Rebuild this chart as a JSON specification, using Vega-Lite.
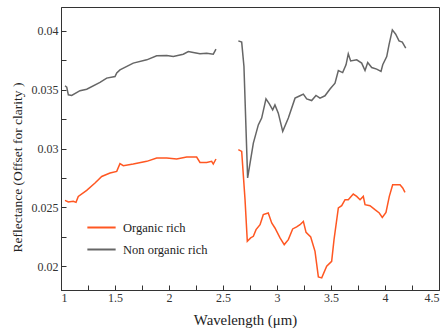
{
  "$schema": "https://vega.github.io/schema/vega-lite/v6.json",
  "width": 378,
  "height": 283,
  "autosize": "none",
  "padding": {"left": 61, "top": 7, "right": 7, "bottom": 44},
  "background": "white",
  "config": {
    "font": "Liberation Serif",
    "view": {"stroke": "#333333", "strokeWidth": 1},
    "text": {"font": "Liberation Serif"},
    "legend": {"labelFont": "Liberation Serif"},
    "axis": {
      "domainColor": "#333333",
      "tickColor": "#333333",
      "labelColor": "#333333",
      "titleColor": "#222222",
      "labelFont": "Liberation Serif",
      "titleFont": "Liberation Serif",
      "labelFontSize": 12,
      "titleFontSize": 14,
      "titleFontWeight": "normal",
      "grid": false
    }
  },
  "data": {
    "values": [
      {"s": "Non organic rich", "g": "a", "x": 1.037, "y": 0.03532},
      {"s": "Non organic rich", "g": "a", "x": 1.053, "y": 0.0352},
      {"s": "Non organic rich", "g": "a", "x": 1.068, "y": 0.03455},
      {"s": "Non organic rich", "g": "a", "x": 1.099, "y": 0.0345},
      {"s": "Non organic rich", "g": "a", "x": 1.176, "y": 0.0349},
      {"s": "Non organic rich", "g": "a", "x": 1.238, "y": 0.03503},
      {"s": "Non organic rich", "g": "a", "x": 1.361, "y": 0.0356},
      {"s": "Non organic rich", "g": "a", "x": 1.423, "y": 0.03597},
      {"s": "Non organic rich", "g": "a", "x": 1.5, "y": 0.0361},
      {"s": "Non organic rich", "g": "a", "x": 1.516, "y": 0.0364},
      {"s": "Non organic rich", "g": "a", "x": 1.546, "y": 0.03667},
      {"s": "Non organic rich", "g": "a", "x": 1.669, "y": 0.03724},
      {"s": "Non organic rich", "g": "a", "x": 1.794, "y": 0.03752},
      {"s": "Non organic rich", "g": "a", "x": 1.886, "y": 0.03786},
      {"s": "Non organic rich", "g": "a", "x": 1.979, "y": 0.03788},
      {"s": "Non organic rich", "g": "a", "x": 2.04, "y": 0.0378},
      {"s": "Non organic rich", "g": "a", "x": 2.132, "y": 0.038},
      {"s": "Non organic rich", "g": "a", "x": 2.179, "y": 0.03822},
      {"s": "Non organic rich", "g": "a", "x": 2.225, "y": 0.03814},
      {"s": "Non organic rich", "g": "a", "x": 2.287, "y": 0.03803},
      {"s": "Non organic rich", "g": "a", "x": 2.349, "y": 0.03808},
      {"s": "Non organic rich", "g": "a", "x": 2.41, "y": 0.038},
      {"s": "Non organic rich", "g": "a", "x": 2.435, "y": 0.03842},
      {"s": "Non organic rich", "g": "b", "x": 2.642, "y": 0.03913},
      {"s": "Non organic rich", "g": "b", "x": 2.673, "y": 0.03902},
      {"s": "Non organic rich", "g": "b", "x": 2.694, "y": 0.03695},
      {"s": "Non organic rich", "g": "b", "x": 2.728, "y": 0.0275},
      {"s": "Non organic rich", "g": "b", "x": 2.781, "y": 0.03046},
      {"s": "Non organic rich", "g": "b", "x": 2.827, "y": 0.032},
      {"s": "Non organic rich", "g": "b", "x": 2.858, "y": 0.03258},
      {"s": "Non organic rich", "g": "b", "x": 2.898, "y": 0.03421},
      {"s": "Non organic rich", "g": "b", "x": 2.929, "y": 0.03379},
      {"s": "Non organic rich", "g": "b", "x": 2.96, "y": 0.03328},
      {"s": "Non organic rich", "g": "b", "x": 2.981, "y": 0.0337},
      {"s": "Non organic rich", "g": "b", "x": 3.012, "y": 0.033},
      {"s": "Non organic rich", "g": "b", "x": 3.053, "y": 0.03145},
      {"s": "Non organic rich", "g": "b", "x": 3.105, "y": 0.03258},
      {"s": "Non organic rich", "g": "b", "x": 3.167, "y": 0.03427},
      {"s": "Non organic rich", "g": "b", "x": 3.213, "y": 0.03447},
      {"s": "Non organic rich", "g": "b", "x": 3.244, "y": 0.03461},
      {"s": "Non organic rich", "g": "b", "x": 3.275, "y": 0.03421},
      {"s": "Non organic rich", "g": "b", "x": 3.321, "y": 0.03407},
      {"s": "Non organic rich", "g": "b", "x": 3.361, "y": 0.0345},
      {"s": "Non organic rich", "g": "b", "x": 3.398, "y": 0.03427},
      {"s": "Non organic rich", "g": "b", "x": 3.444, "y": 0.03447},
      {"s": "Non organic rich", "g": "b", "x": 3.491, "y": 0.03504},
      {"s": "Non organic rich", "g": "b", "x": 3.537, "y": 0.03554},
      {"s": "Non organic rich", "g": "b", "x": 3.568, "y": 0.03661},
      {"s": "Non organic rich", "g": "b", "x": 3.608, "y": 0.03644},
      {"s": "Non organic rich", "g": "b", "x": 3.639, "y": 0.0371},
      {"s": "Non organic rich", "g": "b", "x": 3.66, "y": 0.03803},
      {"s": "Non organic rich", "g": "b", "x": 3.682, "y": 0.03743},
      {"s": "Non organic rich", "g": "b", "x": 3.738, "y": 0.03752},
      {"s": "Non organic rich", "g": "b", "x": 3.784, "y": 0.03724},
      {"s": "Non organic rich", "g": "b", "x": 3.815, "y": 0.03661},
      {"s": "Non organic rich", "g": "b", "x": 3.84, "y": 0.03729},
      {"s": "Non organic rich", "g": "b", "x": 3.877, "y": 0.03687},
      {"s": "Non organic rich", "g": "b", "x": 3.923, "y": 0.03673},
      {"s": "Non organic rich", "g": "b", "x": 3.963, "y": 0.03653},
      {"s": "Non organic rich", "g": "b", "x": 3.979, "y": 0.0371},
      {"s": "Non organic rich", "g": "b", "x": 4.016, "y": 0.0378},
      {"s": "Non organic rich", "g": "b", "x": 4.037, "y": 0.03879},
      {"s": "Non organic rich", "g": "b", "x": 4.068, "y": 0.04006},
      {"s": "Non organic rich", "g": "b", "x": 4.099, "y": 0.03969},
      {"s": "Non organic rich", "g": "b", "x": 4.13, "y": 0.03913},
      {"s": "Non organic rich", "g": "b", "x": 4.16, "y": 0.03902},
      {"s": "Non organic rich", "g": "b", "x": 4.192, "y": 0.03851},
      {"s": "Organic rich", "g": "a", "x": 1.037, "y": 0.0256},
      {"s": "Organic rich", "g": "a", "x": 1.068, "y": 0.02546},
      {"s": "Organic rich", "g": "a", "x": 1.114, "y": 0.02552},
      {"s": "Organic rich", "g": "a", "x": 1.139, "y": 0.02543},
      {"s": "Organic rich", "g": "a", "x": 1.16, "y": 0.02594},
      {"s": "Organic rich", "g": "a", "x": 1.238, "y": 0.02645},
      {"s": "Organic rich", "g": "a", "x": 1.315, "y": 0.02707},
      {"s": "Organic rich", "g": "a", "x": 1.377, "y": 0.02763},
      {"s": "Organic rich", "g": "a", "x": 1.454, "y": 0.02792},
      {"s": "Organic rich", "g": "a", "x": 1.516, "y": 0.02806},
      {"s": "Organic rich", "g": "a", "x": 1.546, "y": 0.02871},
      {"s": "Organic rich", "g": "a", "x": 1.577, "y": 0.02854},
      {"s": "Organic rich", "g": "a", "x": 1.669, "y": 0.02868},
      {"s": "Organic rich", "g": "a", "x": 1.794, "y": 0.02891},
      {"s": "Organic rich", "g": "a", "x": 1.886, "y": 0.02919},
      {"s": "Organic rich", "g": "a", "x": 1.979, "y": 0.02919},
      {"s": "Organic rich", "g": "a", "x": 2.071, "y": 0.02911},
      {"s": "Organic rich", "g": "a", "x": 2.164, "y": 0.02928},
      {"s": "Organic rich", "g": "a", "x": 2.256, "y": 0.02928},
      {"s": "Organic rich", "g": "a", "x": 2.287, "y": 0.02882},
      {"s": "Organic rich", "g": "a", "x": 2.349, "y": 0.02882},
      {"s": "Organic rich", "g": "a", "x": 2.395, "y": 0.02891},
      {"s": "Organic rich", "g": "a", "x": 2.41, "y": 0.02868},
      {"s": "Organic rich", "g": "a", "x": 2.435, "y": 0.02911},
      {"s": "Organic rich", "g": "b", "x": 2.642, "y": 0.0299},
      {"s": "Organic rich", "g": "b", "x": 2.673, "y": 0.02975},
      {"s": "Organic rich", "g": "b", "x": 2.704, "y": 0.02566},
      {"s": "Organic rich", "g": "b", "x": 2.725, "y": 0.02213},
      {"s": "Organic rich", "g": "b", "x": 2.756, "y": 0.02242},
      {"s": "Organic rich", "g": "b", "x": 2.781, "y": 0.02255},
      {"s": "Organic rich", "g": "b", "x": 2.806, "y": 0.02312},
      {"s": "Organic rich", "g": "b", "x": 2.843, "y": 0.02354},
      {"s": "Organic rich", "g": "b", "x": 2.873, "y": 0.02439},
      {"s": "Organic rich", "g": "b", "x": 2.919, "y": 0.02453},
      {"s": "Organic rich", "g": "b", "x": 2.951, "y": 0.02368},
      {"s": "Organic rich", "g": "b", "x": 2.981, "y": 0.02326},
      {"s": "Organic rich", "g": "b", "x": 3.028, "y": 0.02242},
      {"s": "Organic rich", "g": "b", "x": 3.067, "y": 0.02185},
      {"s": "Organic rich", "g": "b", "x": 3.105, "y": 0.02227},
      {"s": "Organic rich", "g": "b", "x": 3.145, "y": 0.02318},
      {"s": "Organic rich", "g": "b", "x": 3.182, "y": 0.02335},
      {"s": "Organic rich", "g": "b", "x": 3.213, "y": 0.02354},
      {"s": "Organic rich", "g": "b", "x": 3.244, "y": 0.02382},
      {"s": "Organic rich", "g": "b", "x": 3.269, "y": 0.02289},
      {"s": "Organic rich", "g": "b", "x": 3.312, "y": 0.0225},
      {"s": "Organic rich", "g": "b", "x": 3.352, "y": 0.02128},
      {"s": "Organic rich", "g": "b", "x": 3.383, "y": 0.01911},
      {"s": "Organic rich", "g": "b", "x": 3.414, "y": 0.01903},
      {"s": "Organic rich", "g": "b", "x": 3.46, "y": 0.02001},
      {"s": "Organic rich", "g": "b", "x": 3.506, "y": 0.02043},
      {"s": "Organic rich", "g": "b", "x": 3.528, "y": 0.02227},
      {"s": "Organic rich", "g": "b", "x": 3.568, "y": 0.02496},
      {"s": "Organic rich", "g": "b", "x": 3.599, "y": 0.02515},
      {"s": "Organic rich", "g": "b", "x": 3.63, "y": 0.02566},
      {"s": "Organic rich", "g": "b", "x": 3.66, "y": 0.02566},
      {"s": "Organic rich", "g": "b", "x": 3.706, "y": 0.02614},
      {"s": "Organic rich", "g": "b", "x": 3.738, "y": 0.02594},
      {"s": "Organic rich", "g": "b", "x": 3.769, "y": 0.02566},
      {"s": "Organic rich", "g": "b", "x": 3.799, "y": 0.02594},
      {"s": "Organic rich", "g": "b", "x": 3.815, "y": 0.02524},
      {"s": "Organic rich", "g": "b", "x": 3.861, "y": 0.02515},
      {"s": "Organic rich", "g": "b", "x": 3.907, "y": 0.02481},
      {"s": "Organic rich", "g": "b", "x": 3.947, "y": 0.02453},
      {"s": "Organic rich", "g": "b", "x": 3.975, "y": 0.02416},
      {"s": "Organic rich", "g": "b", "x": 4.009, "y": 0.02458},
      {"s": "Organic rich", "g": "b", "x": 4.04, "y": 0.02594},
      {"s": "Organic rich", "g": "b", "x": 4.071, "y": 0.02693},
      {"s": "Organic rich", "g": "b", "x": 4.108, "y": 0.02693},
      {"s": "Organic rich", "g": "b", "x": 4.139, "y": 0.02693},
      {"s": "Organic rich", "g": "b", "x": 4.164, "y": 0.02665},
      {"s": "Organic rich", "g": "b", "x": 4.185, "y": 0.02628}
    ]
  },
  "mark": {"type": "line", "strokeWidth": 1.5, "interpolate": "linear"},
  "encoding": {
    "x": {
      "field": "x",
      "type": "quantitative",
      "scale": {"domain": [1, 4.5], "nice": false, "zero": false},
      "axis": {
        "title": "Wavelength (μm)",
        "values": [1, 1.25, 1.5, 1.75, 2, 2.25, 2.5, 2.75, 3, 3.25, 3.5, 3.75, 4, 4.25, 4.5],
        "labelExpr": "abs(datum.value * 2 - round(datum.value * 2)) < 0.01 ? format(datum.value, '~g') : ''",
        "labelFont": "Liberation Serif",
        "titleFont": "Liberation Serif",
        "titleFontSize": 14.8,
        "tickSize": -5,
        "labelPadding": 7,
        "titlePadding": 9,
        "titleX": 184,
        "titleAlign": "center"
      }
    },
    "y": {
      "field": "y",
      "type": "quantitative",
      "scale": {"domain": [0.018, 0.042], "nice": false, "zero": false},
      "axis": {
        "title": "Reflectance (Offset for clarity )",
        "values": [0.02, 0.0225, 0.025, 0.0275, 0.03, 0.0325, 0.035, 0.0375, 0.04],
        "labelExpr": "abs(datum.value * 200 - round(datum.value * 200)) < 0.01 ? format(datum.value, '~g') : ''",
        "labelFont": "Liberation Serif",
        "titleFont": "Liberation Serif",
        "titleFontSize": 13.5,
        "tickSize": -5,
        "labelPadding": 8,
        "titleX": -44,
        "titleY": 160,
        "titleAlign": "center",
        "titleBaseline": "middle"
      }
    },
    "color": {
      "field": "s",
      "type": "nominal",
      "scale": {"domain": ["Organic rich", "Non organic rich"], "range": ["#ff5722", "#666666"]},
      "legend": {
        "title": null,
        "orient": "none",
        "legendX": 25,
        "legendY": 205,
        "symbolType": "stroke",
        "symbolSize": 800,
        "symbolStrokeWidth": 2,
        "labelFont": "Liberation Serif",
        "labelFontSize": 12.5,
        "labelColor": "#222222",
        "labelOffset": 6,
        "rowPadding": -11,
        "padding": 0
      }
    },
    "detail": {"field": "g", "type": "nominal"}
  }
}
